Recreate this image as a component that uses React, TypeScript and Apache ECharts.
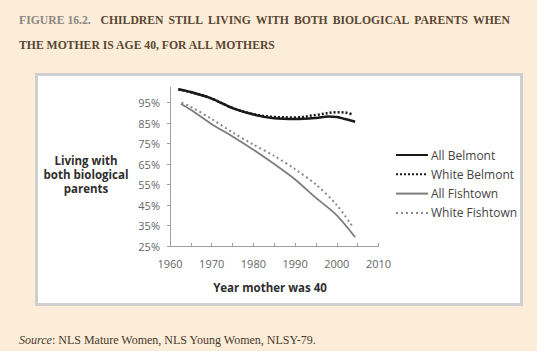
import React, { useEffect, useRef } from "react";
import * as echarts from "echarts";

// ---- data ----
const allBelmontYears = [1962, 1966, 1970, 1975, 1980, 1985, 1990, 1995, 1998, 2000, 2002, 2004.4];
const allBelmontValues = [101.5, 99.6, 97, 92.3, 89.2, 87.4, 87, 87.5, 88.2, 88, 87, 85.7];

const whiteBelmontYears = [1962, 1966, 1970, 1975, 1980, 1985, 1990, 1995, 2000, 2002, 2003.6];
const whiteBelmontValues = [101.5, 99.6, 97, 92.4, 89.4, 88, 87.8, 89, 90.3, 90.2, 89.3];

const allFishtownYears = [1962.6, 1965, 1970, 1975, 1980, 1985, 1990, 1995, 2000, 2004.4];
const allFishtownValues = [94.5, 91.5, 84.5, 78.5, 72, 65, 57.5, 48.5, 40, 29.3];

const whiteFishtownYears = [1962.8, 1965, 1970, 1975, 1980, 1985, 1990, 1995, 2000, 2003.6];
const whiteFishtownValues = [95, 93, 87, 80.5, 74.5, 69, 62.5, 55, 45, 35];

const seriesNames = ["All Belmont", "White Belmont", "All Fishtown", "White Fishtown"];

const yTickValues = [25, 35, 45, 55, 65, 75, 85, 95];
const xTickValues = [1960, 1965, 1970, 1975, 1980, 1985, 1990, 1995, 2000, 2005, 2010];
const xLabelValues = [1960, 1970, 1980, 1990, 2000, 2010];

const titleGray = "FIGURE 16.2.";
const titleLine1Words = ["CHILDREN", "STILL", "LIVING", "WITH", "BOTH", "BIOLOGICAL", "PARENTS", "WHEN"];
const titleLine2 = "THE MOTHER IS AGE 40, FOR ALL MOTHERS";
const sourceLabel = "Source";
const sourceText = ": NLS Mature Women, NLS Young Women, NLSY-79.";
const yAxisTitle = "Living with\nboth biological\nparents";
const xAxisTitle = "Year mother was 40";

const zip = (xs: number[], ys: number[]) => xs.map((x, i) => [x, ys[i]]);

const SANS = '"Open Sans", sans-serif';
const SERIF = '"Liberation Serif", serif';

export default function App() {
  const ref = useRef<HTMLDivElement>(null);

  useEffect(() => {
    if (!ref.current) return;
    const chart = echarts.init(ref.current, null, { renderer: "svg" });

    // justify title line 1 words
    const titleFont = `bold 11.7px ${SERIF}`;
    const canvas = document.createElement("canvas");
    const ctx = canvas.getContext("2d")!;
    ctx.font = titleFont;
    const widths = titleLine1Words.map((w) => ctx.measureText(w).width);
    const startX = 100.5;
    const endX = 510;
    const total = widths.reduce((a, b) => a + b, 0);
    const gap = (endX - startX - total) / (titleLine1Words.length - 1);
    let cx = startX;
    const wordEls = titleLine1Words.map((w, i) => {
      const el = {
        type: "text",
        x: cx,
        y: 20,
        style: {
          text: w,
          font: titleFont,
          fill: "#5a4632",
          verticalAlign: "middle",
          textAlign: "left",
        },
      };
      cx += widths[i] + gap;
      return el;
    });

    const srcFontItalic = `italic 12px ${SERIF}`;
    ctx.font = srcFontItalic;
    const srcLabelW = ctx.measureText(sourceLabel).width;

    const option: any = {
      animation: false,
      backgroundColor: "#fcedd9",
      graphic: [
        {
          type: "rect",
          z: -10,
          shape: { x: 36.5, y: 74.5, width: 485, height: 230 },
          style: { fill: "#ffffff", stroke: "#cfcfcf", lineWidth: 3 },
        },
        {
          type: "text",
          x: 19,
          y: 20,
          style: {
            text: titleGray,
            font: titleFont,
            fill: "#8c8782",
            verticalAlign: "middle",
          },
        },
        ...wordEls,
        {
          type: "text",
          x: 19,
          y: 45,
          style: {
            text: titleLine2,
            font: titleFont,
            fill: "#5a4632",
            verticalAlign: "middle",
          },
        },
        {
          type: "text",
          x: 19,
          y: 340,
          style: {
            text: sourceLabel,
            font: srcFontItalic,
            fill: "#4a3a2a",
            verticalAlign: "middle",
          },
        },
        {
          type: "text",
          x: 19 + srcLabelW,
          y: 340,
          style: {
            text: sourceText,
            font: `12px ${SERIF}`,
            fill: "#4a3a2a",
            verticalAlign: "middle",
          },
        },
        {
          type: "text",
          x: 86,
          y: 174,
          style: {
            text: yAxisTitle,
            font: `bold 11.5px ${SANS}`,
            fill: "#2e2e2e",
            textAlign: "center",
            verticalAlign: "middle",
            lineHeight: 14,
          },
        },
        {
          type: "text",
          x: 270,
          y: 287,
          style: {
            text: xAxisTitle,
            font: `bold 11.5px ${SANS}`,
            fill: "#2e2e2e",
            textAlign: "center",
            verticalAlign: "middle",
          },
        },
      ],
      grid: { left: 170, right: 537 - 378.5, top: 87.3, bottom: 351 - 246 },
      xAxis: {
        type: "value",
        min: 1960,
        max: 2010,
        splitLine: { show: false },
        axisLine: { show: true, lineStyle: { color: "#a0a0a0", width: 1 } },
        axisTick: {
          show: true,
          inside: true,
          length: 3,
          customValues: xTickValues,
          lineStyle: { color: "#a0a0a0" },
        },
        axisLabel: {
          customValues: xLabelValues,
          color: "#666666",
          fontFamily: SANS,
          fontSize: 11,
          margin: 12,
          formatter: (v: number) => String(v),
        },
      },
      yAxis: {
        type: "value",
        min: 25,
        max: 102.5,
        splitLine: { show: false },
        axisLine: { show: true, lineStyle: { color: "#a0a0a0", width: 1 } },
        axisTick: {
          show: true,
          length: 3,
          customValues: yTickValues,
          lineStyle: { color: "#a0a0a0" },
        },
        axisLabel: {
          customValues: yTickValues,
          color: "#666666",
          fontFamily: SANS,
          fontSize: 11,
          margin: 10,
          formatter: (v: number) => `${v}%`,
        },
      },
      legend: {
        orient: "vertical",
        left: 395,
        top: 149,
        padding: 0,
        itemWidth: 32,
        itemHeight: 14,
        itemGap: 7.3,
        data: seriesNames,
        itemStyle: { opacity: 0 },
        textStyle: { color: "#444444", fontFamily: SANS, fontSize: 12, padding: [0, 0, 0, -2] },
      },
      series: [
        {
          name: seriesNames[0],
          type: "line",
          data: zip(allBelmontYears, allBelmontValues),
          symbol: "none",
          smooth: 0.35,
          z: 4,
          lineStyle: { color: "#1a1a1a", width: 2.5, type: "solid" },
          itemStyle: { color: "#1a1a1a" },
        },
        {
          name: seriesNames[1],
          type: "line",
          data: zip(whiteBelmontYears, whiteBelmontValues),
          symbol: "none",
          smooth: 0.35,
          z: 3,
          lineStyle: { color: "#1a1a1a", width: 2.5, type: [2, 2] },
          itemStyle: { color: "#1a1a1a" },
        },
        {
          name: seriesNames[2],
          type: "line",
          data: zip(allFishtownYears, allFishtownValues),
          symbol: "none",
          smooth: 0.3,
          lineStyle: { color: "#7d7d7d", width: 1.8, type: "solid" },
          itemStyle: { color: "#7d7d7d" },
        },
        {
          name: seriesNames[3],
          type: "line",
          data: zip(whiteFishtownYears, whiteFishtownValues),
          symbol: "none",
          smooth: 0.3,
          lineStyle: { color: "#8a8a8a", width: 2, type: [2, 3] },
          itemStyle: { color: "#8a8a8a" },
        },
      ],
    };

    chart.setOption(option);
    return () => chart.dispose();
  }, []);

  return (
    <div
      ref={ref}
      style={{ position: "absolute", left: 0, top: 0, width: 537, height: 351 }}
    />
  );
}
